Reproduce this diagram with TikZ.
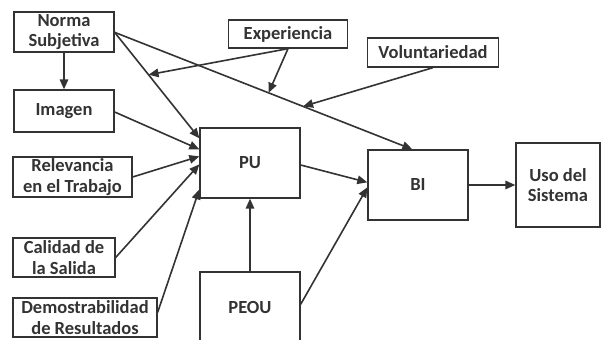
\documentclass[tikz,border=0pt]{standalone}
\usepackage{fontspec}
\setmainfont{Carlito}
\usetikzlibrary{arrows.meta,calc}
\definecolor{ink}{HTML}{333333}
\begin{document}
\begin{tikzpicture}[x=1pt,y=-1pt,
  box/.style={draw=ink,line width=1.3pt,rectangle,inner sep=0pt,align=center,
    text=ink,font=\fontsize{18.5}{20.5}\selectfont\bfseries},
  conn/.style={draw=ink,line width=1.6pt,-{Triangle[length=10pt,width=8.5pt]}}]
\useasboundingbox (0,0) rectangle (606,340);
\fill[white] (0,0) rectangle (606,340);
\node[box,minimum width=100pt,minimum height=40pt] (ns) at (64,32) {Norma\\Subjetiva};
\node[box,minimum width=100pt,minimum height=42pt] (img) at (64,111) {Imagen};
\node[box,minimum width=119pt,minimum height=28pt] (exp) at (288,34) {Experiencia};
\node[box,minimum width=131pt,minimum height=29pt] (vol) at (433,52.5) {Voluntariedad};
\node[box,minimum width=100pt,minimum height=70pt] (pu) at (250,163) {PU};
\node[box,minimum width=100pt,minimum height=70pt] (peou) at (250,307) {PEOU};
\node[box,minimum width=100pt,minimum height=70pt] (bi) at (418,185) {BI};
\node[box,minimum width=84pt,minimum height=84pt] (uso) at (558,185) {Uso del\\Sistema};
\node[box,minimum width=119pt,minimum height=40pt] (rel) at (72.5,177) {Relevancia\\en el Trabajo};
\node[box,minimum width=102pt,minimum height=39pt] (cal) at (64,257.5) {Calidad de\\la Salida};
\node[box,minimum width=144pt,minimum height=39pt] (dem) at (85,317.5) {Demostrabilidad\\de Resultados};
% endpoints
\coordinate (nsA) at ($(ns.north east)+(0,21)$);
\coordinate (puA) at ($(pu.north west)+(0,11)$);
\coordinate (puB) at ($(pu.north west)+(0,22)$);
\coordinate (puC) at ($(pu.north west)+(0,29)$);
\coordinate (puD) at ($(pu.north west)+(0,37)$);
\coordinate (puE) at ($(pu.north west)+(0,62)$);
\coordinate (biA) at ($(bi.north west)+(45,0)$);
\coordinate (biB) at ($(bi.north west)+(0,33)$);
\coordinate (biC) at ($(bi.north west)+(0,38)$);
\coordinate (l1) at ($(nsA)!0.40!(puA)$);
\coordinate (l2) at ($(nsA)!0.517!(biA)$);
\coordinate (l3) at ($(nsA)!0.633!(biA)$);
\coordinate (imgA) at ($(img.east)+(0,1)$);
\coordinate (peouA) at ($(peou.north east)+(0,33)$);
% connectors
\draw[conn] (ns.south) -- (img.north);
\draw[conn] (nsA) -- (puA);
\draw[conn] (nsA) -- (biA);
\draw[conn] (exp.south) -- (l1);
\draw[conn] (exp.south) -- (l2);
\draw[conn] (vol.south) -- (l3);
\draw[conn] (imgA) -- (puB);
\draw[conn] (rel.east) -- (puC);
\draw[conn] (cal.east) -- (puD);
\draw[conn] ($(dem.north east)+(0,15)$) -- (puE);
\draw[conn] (peou.north) -- (pu.south);
\draw[conn] (peouA) -- (biC);
\draw[conn] ($(pu.east)+(0,2)$) -- (biB);
\draw[conn] (bi.east) -- (uso.west);
\end{tikzpicture}
\end{document}
